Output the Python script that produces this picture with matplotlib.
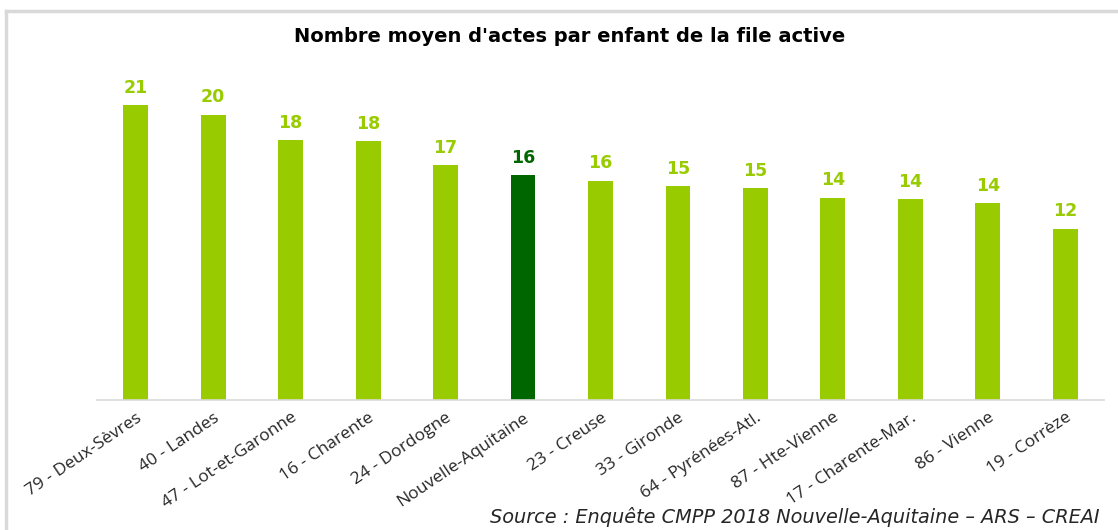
import matplotlib
matplotlib.use("Agg")
import matplotlib.pyplot as plt

categories = ["79 - Deux-Sèvres", "40 - Landes", "47 - Lot-et-Garonne", "16 - Charente",
              "24 - Dordogne", "Nouvelle-Aquitaine", "23 - Creuse", "33 - Gironde",
              "64 - Pyrénées-Atl.", "87 - Hte-Vienne", "17 - Charente-Mar.", "86 - Vienne",
              "19 - Corrèze"]
values = [21.0, 20.3, 18.5, 18.4, 16.7, 16.0, 15.6, 15.2, 15.1, 14.4, 14.3, 14.0, 12.2]
labels = ["21", "20", "18", "18", "17", "16", "16", "15", "15", "14", "14", "14", "12"]
highlight = "Nouvelle-Aquitaine"

LIGHT = "#99CC00"
DARK = "#006600"

W, H = 1118, 530
fig = plt.figure(figsize=(W / 100, H / 100), dpi=100)

# frame border (top and left visible)
fig.add_artist(plt.Line2D([6 / W, 6 / W], [0, 1 - 11 / H], transform=fig.transFigure,
                          color="#D9D9D9", lw=2.5))
fig.add_artist(plt.Line2D([6 / W, 1], [1 - 11 / H, 1 - 11 / H], transform=fig.transFigure,
                          color="#D9D9D9", lw=2.5))

ax_left, ax_right = 97 / W, 1104 / W
ax_bottom = (H - 400) / H
ax_top = (H - 60) / H
ax = fig.add_axes([ax_left, ax_bottom, ax_right - ax_left, ax_top - ax_bottom])

colors = [DARK if c == highlight else LIGHT for c in categories]
x = list(range(len(categories)))
ax.bar(x, values, width=0.32, color=colors)
ax.set_xlim(-0.5, len(categories) - 0.5)
ax.set_ylim(0, 24.2)

for xi, v, lab, col in zip(x, values, labels, colors):
    ax.annotate(lab, (xi, v), xytext=(0, 6), textcoords="offset points",
                ha="center", va="bottom", fontsize=12.5, fontweight="bold",
                color=col, family="DejaVu Sans")

for s in ["top", "right", "left"]:
    ax.spines[s].set_visible(False)
ax.spines["bottom"].set_color("#D9D9D9")
ax.spines["bottom"].set_linewidth(1.2)
ax.set_yticks([])
ax.set_xticks(x)
ax.set_xticklabels(categories, rotation=34, ha="right", va="top",
                   rotation_mode="anchor", fontsize=12.5, family="Open Sans", color="#262626")
ax.tick_params(axis="x", length=0, pad=7)

fig.text(570 / W, 1 - 37 / H, "Nombre moyen d'actes par enfant de la file active",
         ha="center", va="center", fontsize=14, fontweight="bold", family="DejaVu Sans",
         color="#000000")
fig.text(1100 / W, 1 - 517 / H,
         "Source : Enquête CMPP 2018 Nouvelle-Aquitaine – ARS – CREAI",
         ha="right", va="center", fontsize=13.9, style="italic", family="DejaVu Sans",
         color="#262626")

fig.savefig("out.png", dpi=100)
